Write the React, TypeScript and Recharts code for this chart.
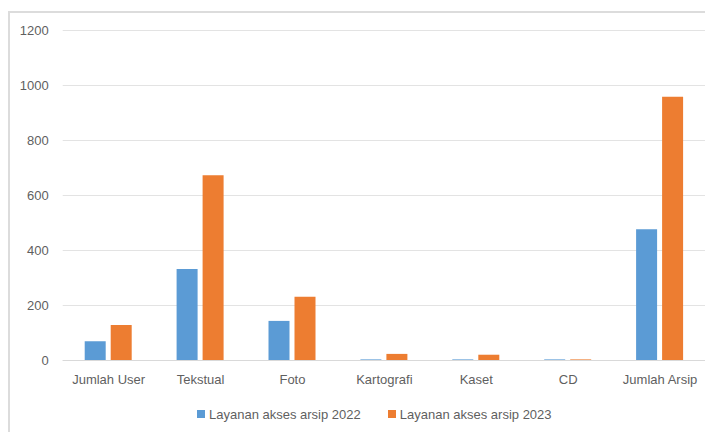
import React from "react";
import { BarChart, Bar, XAxis, YAxis, CartesianGrid, Legend } from "recharts";

const categories = ["Jumlah User", "Tekstual", "Foto", "Kartografi", "Kaset", "CD", "Jumlah Arsip"];
const access2022 = [70, 333, 144, 4, 4, 4, 477];
const access2023 = [129, 674, 232, 24, 21, 4, 959];
const yTicks = [0, 200, 400, 600, 800, 1000, 1200];

const series = [
  { key: "y2022", name: "Layanan akses arsip 2022", color: "#5b9bd5" },
  { key: "y2023", name: "Layanan akses arsip 2023", color: "#ed7d31" },
];

const data = categories.map((name, i) => ({
  name,
  y2022: access2022[i],
  y2023: access2023[i],
}));

const FONT = '"Liberation Sans", Arial, sans-serif';
const TEXT = "#5f5f5f";

const LegendContent = () => (
  <div
    style={{
      display: "flex",
      alignItems: "center",
      height: 20,
      paddingLeft: 189,
      fontFamily: FONT,
      fontSize: 13,
      color: TEXT,
    }}
  >
    {series.map((s, i) => (
      <div key={s.key} style={{ display: "flex", alignItems: "center", marginRight: i === 0 ? 27 : 0 }}>
        <span style={{ display: "inline-block", width: 8, height: 8, background: s.color, marginRight: 4 }} />
        <span>{s.name}</span>
      </div>
    ))}
  </div>
);

export default function App() {
  return (
    <div style={{ position: "relative", width: 705, height: 424, overflow: "hidden" }}>
      <div
        style={{
          position: "absolute",
          left: 0,
          top: 3,
          width: 800,
          height: 500,
          borderLeft: "2px solid #dcdcdc",
          borderTop: "2px solid #dcdcdc",
        }}
      />
      <div style={{ position: "absolute", left: 0, top: 0 }}>
        <BarChart
          width={705}
          height={424}
          data={data}
          margin={{ top: 22.5, right: 7, bottom: 8, left: 0 }}
          barCategoryGap="24.7%"
          barGap={5}
        >
          <CartesianGrid vertical={false} stroke="#e3e3e3" strokeWidth={1.2} />
          <XAxis
            dataKey="name"
            height={43.5}
            tickLine={false}
            tickSize={6}
            tickMargin={8}
            axisLine={{ stroke: "#d9d9d9", strokeWidth: 1.2 }}
            tick={{ fill: TEXT, fontSize: 13, fontFamily: FONT }}
            interval={0}
          />
          <YAxis
            width={54.7}
            domain={[0, 1200]}
            ticks={yTicks}
            axisLine={false}
            tickLine={false}
            tickSize={6}
            tickMargin={8}
            tick={{ fill: TEXT, fontSize: 13, fontFamily: FONT }}
          />
          <Legend
            verticalAlign="bottom"
            align="left"
            height={20}
            wrapperStyle={{ left: 0, width: 705 }}
            content={<LegendContent />}
          />
          {series.map((s) => (
            <Bar key={s.key} dataKey={s.key} name={s.name} fill={s.color} barSize={21} isAnimationActive={false} />
          ))}
        </BarChart>
      </div>
    </div>
  );
}
